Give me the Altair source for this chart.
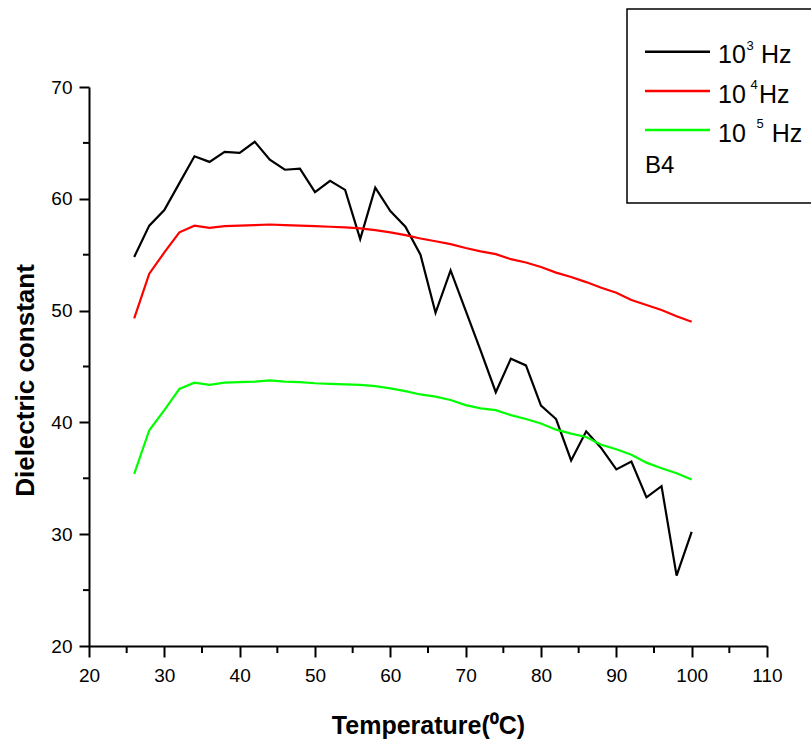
import altair as alt
import pandas as pd

# ---- data ----
temps = [26, 28, 30, 32, 34, 36, 38, 40, 42, 44, 46, 48, 50, 52, 54, 56, 58, 60, 62,
         64, 66, 68, 70, 72, 74, 76, 78, 80, 82, 84, 86, 88, 90, 92, 94, 96, 98, 100]

eps_1e3 = [54.8, 57.6, 59.0, 61.4, 63.8, 63.3, 64.2, 64.1, 65.1, 63.5, 62.6, 62.7, 60.6,
           61.6, 60.8, 56.4, 61.0, 58.9, 57.5, 55.0, 49.8, 53.6, 50.0, 46.4, 42.7, 45.7,
           45.1, 41.5, 40.3, 36.6, 39.2, 37.7, 35.8, 36.5, 33.3, 34.3, 26.3, 30.2]

eps_1e4 = [49.3, 53.3, 55.2, 57.0, 57.6, 57.4, 57.55, 57.6, 57.65, 57.7, 57.65, 57.6, 57.55,
           57.5, 57.45, 57.35, 57.2, 57.0, 56.75, 56.45, 56.2, 55.95, 55.6, 55.3, 55.05, 54.6,
           54.3, 53.9, 53.4, 53.0, 52.55, 52.05, 51.6, 50.95, 50.5, 50.05, 49.5, 49.0]

eps_1e5 = [35.4, 39.3, 41.1, 43.0, 43.55, 43.35, 43.55, 43.6, 43.65, 43.75, 43.65, 43.6, 43.5,
           43.45, 43.4, 43.35, 43.25, 43.05, 42.8, 42.5, 42.3, 42.0, 41.55, 41.25, 41.1, 40.65,
           40.3, 39.9, 39.35, 39.0, 38.7, 38.0, 37.6, 37.1, 36.4, 35.9, 35.45, 34.9]

series_keys = ["1e3", "1e4", "1e5"]
series_colors = ["#000000", "#ff0000", "#00ff00"]
legend_main = ["10", "10", "10"]
legend_sup = ["3", "4", "5"]
legend_tail = ["Hz", "Hz", "Hz"]
sample_label = "B4"

x_major = [20, 30, 40, 50, 60, 70, 80, 90, 100, 110]
x_minor = [25, 35, 45, 55, 65, 75, 85, 95, 105]
y_major = [20, 30, 40, 50, 60, 70]
y_minor = [25, 35, 45, 55, 65]

FONT = "Liberation Sans"
W, H = 678, 559
PAD_L, PAD_T = 89, 87

rows = []
for key, vals in zip(series_keys, [eps_1e3, eps_1e4, eps_1e5]):
    for t, v in zip(temps, vals):
        rows.append({"T": t, "eps": v, "series": key})
df = pd.DataFrame(rows)

color_scale = alt.Scale(domain=series_keys, range=series_colors)
x_scale = alt.Scale(domain=[20, 110], nice=False, zero=False)
y_scale = alt.Scale(domain=[20, 70], nice=False, zero=False)

x_axis = alt.Axis(
    values=x_major, labelOverlap=False, labelFlush=False, tickSize=11,
    tickColor="black", tickWidth=2, domainColor="black", domainWidth=2,
    labelFont=FONT, labelFontSize=19, labelColor="black", labelPadding=9,
    grid=False, title="Temperature(⁰C)", titleFont=FONT, titleFontSize=25,
    titleFontWeight="bold", titleColor="black", titleY=87, titleBaseline="alphabetic",
)
y_axis = alt.Axis(
    values=y_major, labelOverlap=False, labelFlush=False, tickSize=10,
    tickColor="black", tickWidth=2, domainColor="black", domainWidth=2,
    labelFont=FONT, labelFontSize=19, labelColor="black", labelPadding=7,
    grid=False, title="Dielectric constant", titleFont=FONT, titleFontSize=26,
    titleFontWeight="bold", titleColor="black", titleAngle=270, titleX=-56, titleY=293,
    titleAlign="center", titleBaseline="alphabetic",
)

lines = alt.Chart(df).mark_line(strokeWidth=2.2).encode(
    x=alt.X("T:Q", scale=x_scale, axis=x_axis),
    y=alt.Y("eps:Q", scale=y_scale, axis=y_axis),
    color=alt.Color("series:N", scale=color_scale, legend=None),
    order=alt.Order("T:Q"),
)

# minor ticks, placed through the shared scales
xmin_ticks = alt.Chart(pd.DataFrame({"v": x_minor})).mark_rule(color="black", strokeWidth=2).encode(
    x=alt.X("v:Q", scale=x_scale), y=alt.value(H), y2=alt.value(H + 7),
)
ymin_ticks = alt.Chart(pd.DataFrame({"v": y_minor})).mark_rule(color="black", strokeWidth=2).encode(
    y=alt.Y("v:Q", scale=y_scale), x=alt.value(0), x2=alt.value(-6),
)

# ---- hand-drawn legend box (layout in pixels, relative to plot origin) ----
leg_line_y = [51.7 - PAD_T, 91 - PAD_T, 130 - PAD_T]
leg_sup_x = [746.5 - PAD_L, 750.5 - PAD_L, 756.5 - PAD_L]
leg_tail_x = [761 - PAD_L, 759 - PAD_L, 771.7 - PAD_L]
leg = pd.DataFrame({
    "series": series_keys,
    "ly": leg_line_y,
    "ty": [v + 11.5 for v in leg_line_y],
    "sy": [v - 2 for v in leg_line_y],
    "main": legend_main,
    "sup": legend_sup,
    "tail": legend_tail,
    "sx": leg_sup_x,
    "tx": leg_tail_x,
})

one = alt.Data(values=[{}])
box = alt.Chart(one).mark_rect(fill="white", fillOpacity=0, stroke="black", strokeWidth=1.5).encode(
    x=alt.value(627 - PAD_L), x2=alt.value(830 - PAD_L),
    y=alt.value(9 - PAD_T), y2=alt.value(203 - PAD_T),
)
leg_lines = alt.Chart(leg).mark_rule(strokeWidth=2.5).encode(
    x=alt.value(645 - PAD_L), x2=alt.value(710 - PAD_L),
    y=alt.Y("ly:Q", scale=None),
    color=alt.Color("series:N", scale=color_scale, legend=None),
)
leg_main = alt.Chart(leg).mark_text(align="left", baseline="alphabetic", font=FONT,
                                    fontSize=25, color="black").encode(
    x=alt.value(718 - PAD_L), y=alt.Y("ty:Q", scale=None), text="main:N",
)
leg_sup = alt.Chart(leg).mark_text(align="left", baseline="alphabetic", font=FONT,
                                   fontSize=13, color="black").encode(
    x=alt.X("sx:Q", scale=None), y=alt.Y("sy:Q", scale=None), text="sup:N",
)
leg_tail = alt.Chart(leg).mark_text(align="left", baseline="alphabetic", font=FONT,
                                    fontSize=25, color="black").encode(
    x=alt.X("tx:Q", scale=None), y=alt.Y("ty:Q", scale=None), text="tail:N",
)
leg_b4 = alt.Chart(one).mark_text(align="left", baseline="alphabetic", font=FONT,
                                  fontSize=24, color="black", text=sample_label).encode(
    x=alt.value(645 - PAD_L), y=alt.value(173.3 - PAD_T),
)

chart = alt.layer(lines, xmin_ticks, ymin_ticks, box, leg_lines, leg_main, leg_sup,
                  leg_tail, leg_b4).properties(
    width=W, height=H,
    autosize=alt.AutoSizeParams(type="none"),
    padding={"left": PAD_L, "top": PAD_T, "right": 811 - PAD_L - W, "bottom": 743 - PAD_T - H},
    background="white",
).configure_view(stroke=None)

chart.save("out.html", embed_options={"renderer": "svg", "actions": False})
